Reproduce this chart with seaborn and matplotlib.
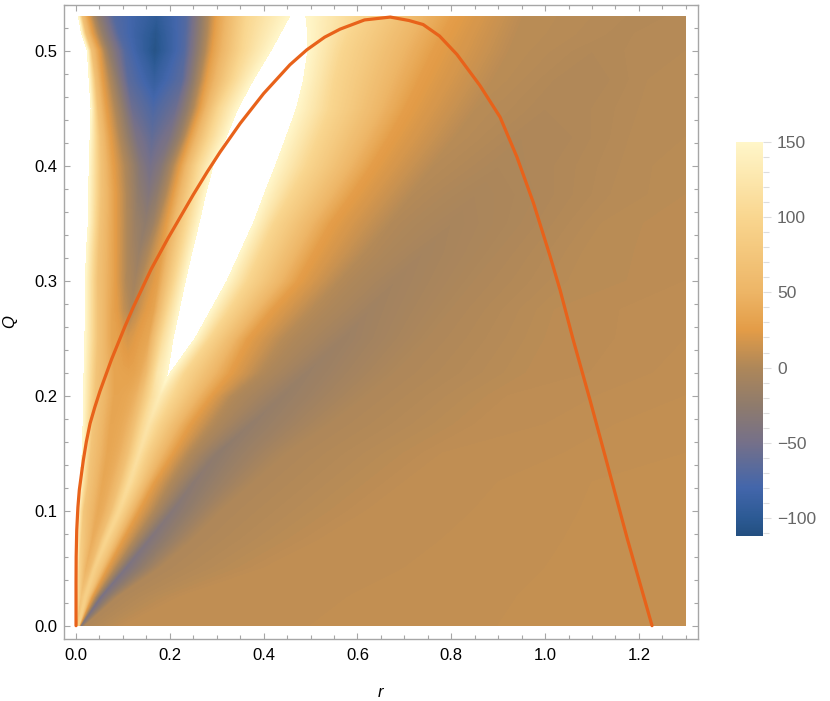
import numpy as np
import matplotlib
matplotlib.use("Agg")
import matplotlib.pyplot as plt
from matplotlib.colors import LinearSegmentedColormap, Normalize
from matplotlib.cm import ScalarMappable
from matplotlib.ticker import MultipleLocator, FixedLocator
import seaborn as sns

# rows of the field (Q value of each row)
q_rows = [0.0, 0.025, 0.05, 0.075, 0.10, 0.125, 0.15, 0.175, 0.20, 0.22, 0.25, 0.275, 0.30,
          0.325, 0.35, 0.375, 0.40, 0.425, 0.45, 0.475, 0.50, 0.515, 0.53]

# r positions of the features followed along each row
r_stations = [
    [0,.0001,.0003,.0006,.001,.0015,.002,.0025,.003,.0035,.004,.0045,.005,.0055,.006,.007,.008,.01,.02,.1,1.3],
    [0,.0005,.002,.01,.011,.012,.013,.014,.015,.016,.018,.0195,.02,.0205,.026,.033,.04,.052,.09,.22,1.3],
    [0,.001,.005,.02,.022,.024,.026,.028,.03,.032,.036,.039,.04,.041,.052,.065,.08,.105,.18,.4,1.3],
    [0,.002,.01,.033,.036,.039,.042,.045,.048,.052,.058,.063,.065,.067,.08,.098,.12,.155,.25,.52,1.3],
    [0,.004,.015,.045,.05,.055,.06,.065,.07,.076,.084,.09,.092,.094,.108,.132,.16,.205,.31,.62,1.3],
    [0,.008,.025,.055,.06,.067,.073,.08,.087,.095,.105,.113,.115,.117,.135,.165,.195,.25,.38,.7,1.3],
    [0,.013,.03,.065,.072,.08,.087,.095,.103,.112,.124,.133,.135,.137,.155,.204,.235,.30,.45,.78,1.3],
    [0,.015,.035,.072,.08,.09,.098,.107,.116,.126,.142,.153,.155,.157,.18,.24,.285,.37,.54,.85,1.3],
    [0,.016,.04,.08,.09,.1,.11,.12,.13,.142,.163,.176,.178,.18,.205,.285,.33,.44,.62,.92,1.3],
    [0,.017,.042,.08,.09,.1,.112,.125,.137,.15,.175,.195,.198,.201,.23,.325,.39,.49,.68,.96,1.3],
    [0,.019,.045,.075,.09,.1,.11,.122,.137,.155,.185,.207,.23,.254,.283,.364,.44,.57,.75,1.0,1.3],
    [0,.0195,.045,.076,.09,.1,.118,.132,.147,.167,.198,.22,.254,.288,.325,.415,.50,.625,.8,1.02,1.3],
    [0,.02,.045,.078,.093,.105,.126,.14,.155,.176,.21,.233,.278,.322,.364,.47,.56,.68,.85,1.05,1.3],
    [0,.022,.047,.079,.098,.115,.135,.15,.165,.186,.224,.247,.298,.35,.392,.505,.615,.74,.9,1.08,1.3],
    [0,.026,.05,.08,.103,.125,.148,.165,.178,.197,.238,.262,.32,.378,.42,.54,.67,.8,.95,1.12,1.3],
    [0,.027,.052,.08,.11,.132,.155,.173,.19,.21,.25,.276,.34,.401,.455,.585,.715,.85,.98,1.14,1.3],
    [0,.028,.052,.076,.118,.136,.158,.182,.198,.224,.26,.292,.36,.425,.49,.627,.76,.9,1.02,1.16,1.3],
    [0,.03,.05,.07,.106,.128,.162,.199,.222,.245,.285,.32,.385,.448,.515,.665,.805,.95,1.06,1.18,1.3],
    [0,.032,.045,.062,.096,.118,.165,.214,.24,.266,.305,.345,.41,.47,.54,.70,.85,1.0,1.1,1.2,1.3],
    [0,.028,.04,.054,.083,.11,.167,.227,.254,.28,.335,.378,.43,.485,.55,.73,.885,1.05,1.14,1.22,1.3],
    [0,.024,.032,.047,.068,.104,.168,.232,.264,.292,.355,.415,.455,.494,.565,.76,.92,1.10,1.17,1.24,1.3],
    [0,.012,.02,.033,.055,.09,.17,.234,.268,.297,.36,.435,.465,.494,.58,.78,.935,1.13,1.19,1.25,1.3],
    [0,.005,.012,.024,.044,.08,.172,.236,.27,.30,.365,.455,.475,.49,.60,.80,.95,1.17,1.22,1.26,1.3],
]

# field value at those positions
field_values = [
    [300,150,110,70,70,72,74,76,78,80,85,90,90,90,70,27,5,-50,0,8,11],
    [300,150,110,70,70,72,74,76,78,80,85,90,90,90,70,27,5,-50,0,8,11],
    [300,150,100,48,48,50,52,54,58,62,78,88,90,88,70,27,5,-45,0,8,11],
    [300,150,85,42,42,44,47,51,56,62,82,95,98,95,72,27,5,-40,0,8,11],
    [300,150,75,38,38,40,44,50,57,66,88,100,102,100,75,27,5,-35,0,8,11],
    [300,150,72,36,36,38,42,48,56,68,92,108,110,108,80,27,5,-30,0,8,11],
    [300,150,72,35,35,37,40,46,55,68,96,112,115,112,85,27,5,-26,0,8,10],
    [300,150,72,34,34,36,38,44,52,68,102,118,120,118,90,27,4,-22,0,7,10],
    [300,150,72,33,33,34,36,40,48,68,112,130,133,130,100,27,3,-19,0,7,9],
    [300,150,72,33,32,31,30,32,38,55,125,150,158,150,100,27,3,-17,0,6,8.5],
    [300,150,72,33,28,22,18,22,28,35,110,150,400,150,100,27,4,-14,0,6,8],
    [300,150,72,32,22,10,-2,10,22,32,105,150,300,150,100,27,4,-11,0,6,8],
    [300,150,70,32,15,2,-10,2,15,30,100,150,300,150,100,27,3,-9,0,5,7],
    [300,150,70,31,10,-6,-18,-6,10,30,103,150,300,150,100,27,3,-7,0,5,7],
    [300,150,70,30,5,-15,-25,-15,5,30,105,150,300,150,100,27,2,-5,0,5,7],
    [300,150,70,30,-3,-25,-38,-25,-3,29,103,150,300,150,100,27,3,-3,0,4,6],
    [300,150,70,30,-15,-35,-50,-35,-15,28,100,150,300,150,100,27,4,-1,1,4,6],
    [300,150,70,30,-18,-45,-62,-45,-18,28,100,150,300,150,100,27,5,0,1,4,5],
    [300,150,70,30,-20,-55,-75,-55,-20,28,100,150,300,150,100,27,5,1,2,4,5],
    [300,150,70,30,-20,-65,-92,-65,-20,28,100,150,300,150,100,27,6,1,2,4,4.5],
    [300,150,70,30,-20,-70,-108,-70,-20,28,100,150,300,150,100,27,6,2,3,4,4],
    [300,150,70,30,-20,-70,-105,-70,-20,28,100,150,300,150,100,27,6,3,3,4,4],
    [300,150,70,30,-20,-70,-98,-70,-20,28,100,150,300,150,100,27,6,3,3,3,4],
]

# orange curve
curve_r = [0,0,.0003,.0015,.004,.007,.0156,.022,.03,.04,.051,.076,.104,.122,.16,.196,.25,.28,.307,.35,.40,.456,.492,.53,.563,.615,.67,.71,.74,.775,.812,.861,.904,.94,.975,1.011,1.032,1.06,1.096,1.132,1.175,1.228]
curve_q = [0,.037,.06,.083,.103,.118,.144,.16,.176,.19,.204,.232,.26,.277,.31,.337,.375,.395,.412,.437,.463,.488,.501,.512,.519,.527,.5295,.5265,.523,.513,.497,.470,.4425,.4077,.368,.321,.292,.2486,.196,.1415,.076,0]

# colour bar
cbar_ticks = [-100, -50, 0, 50, 100, 150]
cbar_labels = ["\u2212100", "\u221250", "0", "50", "100", "150"]
color_vals = [-112, -100, -80, -50, -25, 0, 25, 50, 100, 150]
color_hex = ["#234F80", "#2C5A94", "#4366AB", "#757089", "#8F7B6C", "#AE8759", "#E39C47", "#EDB566", "#F9D68F", "#FFF6C9"]

sns.set_theme(style="white")
plt.rcParams['font.family'] = ['Liberation Sans', 'DejaVu Sans']

vmin, vmax = -112, 150
cmap = LinearSegmentedColormap.from_list(
    "field", [((v - vmin) / (vmax - vmin), c) for v, c in zip(color_vals, color_hex)], N=512)
norm = Normalize(vmin, vmax)

W, H = 830, 701
fig = plt.figure(figsize=(W / 100, H / 100), dpi=100)
ax = fig.add_axes([63.5 / W, 1 - 639 / H, (698 - 63.5) / W, (639 - 5) / H])

R = np.array(r_stations)
Q = np.repeat(np.array(q_rows)[:, None], R.shape[1], axis=1)
V = np.array(field_values, dtype=float)
ax.contourf(R, Q, V, levels=np.arange(vmin, vmax + 0.5, 1.0), cmap=cmap, norm=norm)

sns.lineplot(x=curve_r, y=curve_q, sort=False, estimator=None, color="#E8621A", linewidth=2.3, ax=ax, zorder=5)

ax.set_xlim(-0.0267, 1.326)
ax.set_ylim(-0.0116, 0.540)
ax.xaxis.set_major_locator(MultipleLocator(0.2))
ax.xaxis.set_minor_locator(MultipleLocator(0.05))
ax.yaxis.set_major_locator(MultipleLocator(0.1))
ax.yaxis.set_minor_locator(MultipleLocator(0.02))
gray = "#A6A6A6"
ax.tick_params(which="major", direction="in", length=4.5, width=0.8, color=gray, top=True, right=True,
               bottom=True, left=True, labelsize=12, labelcolor="black")
ax.tick_params(which="minor", direction="in", length=3.2, width=0.8, color=gray, top=True, right=True,
               bottom=True, left=True)
ax.tick_params(axis="x", which="major", pad=6.5)
ax.tick_params(axis="y", which="major", pad=4.5)
for s in ax.spines.values():
    s.set_color(gray)
    s.set_linewidth(1.0)
ax.set_xlabel("r", fontstyle="italic", fontsize=12, color="black")
ax.set_ylabel("Q", fontstyle="italic", fontsize=12, color="black")
ax.xaxis.set_label_coords(0.5, -0.0726)
ax.yaxis.set_label_coords(-0.0733, 0.5)

cax = fig.add_axes([736 / W, 1 - 536 / H, 27 / W, (536 - 142) / H])
cb = fig.colorbar(ScalarMappable(norm=norm, cmap=cmap), cax=cax)
cb.outline.set_visible(False)
cb.set_ticks(cbar_ticks)
cb.set_ticklabels(cbar_labels)
cax.yaxis.set_minor_locator(FixedLocator(list(range(-110, 151, 10))))
cax.tick_params(which="major", direction="out", length=6, width=0.8, color="#DDDDDD", labelsize=12.5, labelcolor="#666666", pad=4)
cax.tick_params(which="minor", direction="out", length=4, width=0.8, color="#DDDDDD")

fig.savefig("out.png", dpi=100)
